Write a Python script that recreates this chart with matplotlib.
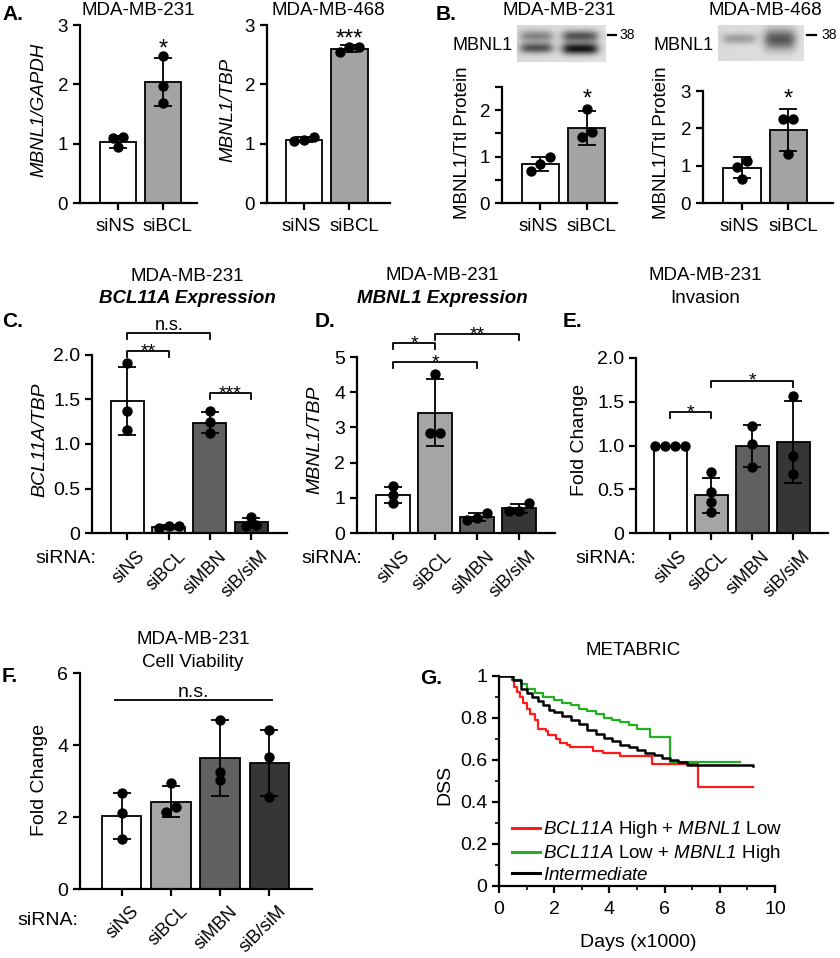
import numpy as np
import matplotlib
matplotlib.use('Agg')
import matplotlib.pyplot as plt
from matplotlib.lines import Line2D
from matplotlib.ticker import MultipleLocator

plt.rcParams['font.family'] = ['Liberation Sans', 'DejaVu Sans']
plt.rcParams['mathtext.fontset'] = 'custom'
plt.rcParams['mathtext.rm'] = 'Liberation Sans:italic'
plt.rcParams['mathtext.it'] = 'Liberation Sans:italic'
plt.rcParams['mathtext.bf'] = 'Liberation Sans:bold'

W, H = 840, 958
PT = 100 / 72  # pixels per point
fig = plt.figure(figsize=(W / 100, H / 100), dpi=100)

# ---------------- data ----------------
groups2 = ['siNS', 'siBCL']
groups4 = ['siNS', 'siBCL', 'siMBN', 'siB/siM']

# A: MBNL1 qPCR
a231_mean = [1.03, 2.04]
a231_sd = [0.10, 0.40]
a231_pts = [[1.10, 1.12, 0.95], [2.48, 1.98, 1.68]]
a468_mean = [1.07, 2.60]
a468_sd = [0.05, 0.06]
a468_pts = [[1.11, 1.05, 1.06], [2.55, 2.63, 2.63]]

# B: MBNL1 western quantification
b231_mean = [0.85, 1.62]
b231_sd = [0.15, 0.37]
b231_pts = [[1.00, 0.85, 0.70], [2.03, 1.52, 1.43]]
b468_mean = [0.94, 1.95]
b468_sd = [0.28, 0.56]
b468_pts = [[1.12, 0.97, 0.63], [2.25, 2.25, 1.30]]

# C: BCL11A expression
c_mean = [1.48, 0.07, 1.24, 0.12]
c_sd = [0.38, 0.02, 0.12, 0.05]
c_pts = [[1.91, 1.37, 1.16], [0.06, 0.08, 0.08], [1.37, 1.25, 1.12], [0.18, 0.08, 0.09]]

# D: MBNL1 expression
d_mean = [1.08, 3.42, 0.45, 0.70]
d_sd = [0.22, 0.96, 0.12, 0.12]
d_pts = [[1.33, 1.08, 0.85], [4.53, 2.85, 2.85], [0.58, 0.37, 0.42], [0.84, 0.63, 0.63]]

# E: invasion
e_mean = [1.00, 0.43, 1.00, 1.04]
e_sd = [0.00, 0.20, 0.24, 0.47]
e_pts = [[1.0, 1.0, 1.0, 1.0], [0.70, 0.47, 0.36, 0.24], [1.22, 1.02, 0.76], [1.57, 0.88, 0.67]]

# F: cell viability
f_mean = [2.03, 2.42, 3.64, 3.50]
f_sd = [0.63, 0.43, 1.06, 0.93]
f_pts = [[2.68, 2.11, 1.40], [2.95, 2.28, 2.15], [4.70, 3.25, 3.03], [4.42, 3.67, 2.55]]

# G: METABRIC Kaplan-Meier (days x1000, DSS)
red_t = [0.0, 0.46, 0.55, 0.64, 0.76, 0.88, 1.0, 1.12, 1.3, 1.42, 1.72, 1.78, 2.08, 2.2,
         2.45, 2.57, 3.42, 3.78, 4.38, 5.53, 7.22, 9.2]
red_s = [1.0, 0.98, 0.95, 0.925, 0.90, 0.87, 0.845, 0.82, 0.79, 0.75, 0.74, 0.72, 0.70, 0.68,
         0.67, 0.66, 0.645, 0.635, 0.62, 0.583, 0.47, 0.47]
grn_t = [0.0, 0.5, 0.8, 1.0, 1.3, 1.6, 2.0, 2.3, 2.6, 2.9, 3.2, 3.5, 3.8, 4.1, 4.4, 4.7,
         5.0, 5.47, 6.2, 8.73]
grn_s = [1.0, 0.98, 0.96, 0.94, 0.92, 0.90, 0.885, 0.87, 0.86, 0.845, 0.835, 0.82, 0.80,
         0.79, 0.78, 0.765, 0.75, 0.71, 0.59, 0.59]
blk_t = [0.0, 0.5, 0.8, 1.0, 1.2, 1.4, 1.6, 1.8, 2.0, 2.3, 2.6, 2.9, 3.2, 3.5, 3.8, 4.1,
         4.4, 4.7, 5.0, 5.3, 5.6, 5.9, 6.2, 6.5, 6.8, 9.2]
blk_s = [1.0, 0.98, 0.94, 0.92, 0.90, 0.88, 0.86, 0.84, 0.83, 0.81, 0.79, 0.77, 0.745,
         0.725, 0.705, 0.69, 0.672, 0.66, 0.648, 0.635, 0.623, 0.61, 0.60, 0.59, 0.575, 0.572]
km_labels = [r'$\mathit{BCL11A}$ High + $\mathit{MBNL1}$ Low',
             r'$\mathit{BCL11A}$ Low + $\mathit{MBNL1}$ High',
             r'$\mathit{Intermediate}$']

# ---------------- style ----------------
C2 = ['white', '#a3a3a3']
C4 = ['white', '#a5a5a5', '#606060', '#363636']
SPINE = 1.6
DOT_PX = 9.0


def px_ax(l, t, r, b):
    return fig.add_axes([l / W, 1 - b / H, (r - l) / W, (b - t) / H])


def ftext(x, y, s, fs, **kw):
    """x, y: pixel position of the visual centre of capitals"""
    yb = y + 0.36 * fs * PT
    ha = kw.pop('ha', 'center')
    fig.text(x / W, 1 - yb / H, s, fontsize=fs, ha=ha, va='baseline', **kw)


def vtext(x, y, s, fs, **kw):
    fig.text(x / W, 1 - y / H, s, fontsize=fs, rotation=90, ha='center', va='center', **kw)


def swarm_offsets(ys, ppu_y, ppu_x):
    ys = np.asarray(ys, dtype=float)
    order = np.argsort(ys)
    offs = np.zeros(len(ys))
    clusters = [[order[0]]]
    for i in order[1:]:
        if (ys[i] - ys[clusters[-1][-1]]) * ppu_y < DOT_PX * 0.85:
            clusters[-1].append(i)
        else:
            clusters.append([i])
    for cl in clusters:
        n = len(cl)
        for k, i in enumerate(cl):
            offs[i] = (k - (n - 1) / 2) * DOT_PX * 1.1 / ppu_x
    return offs


def bar_panel(box, means, sds, pts, colors, xlim, ylim, yticks, yticklabels,
              xlabels, rotate, fs_tick, bw=0.8, rot_dy=15):
    l, t, r, b = box
    ax = px_ax(*box)
    x = np.arange(len(means))
    ax.bar(x, means, width=bw, color=colors, edgecolor='black', linewidth=1.3, zorder=2)
    ax.errorbar(x, means, yerr=sds, fmt='none', ecolor='black', elinewidth=1.3,
                capsize=6.5, capthick=1.3, zorder=3)
    ppu_y = (b - t) / (ylim[1] - ylim[0])
    ppu_x = (r - l) / (xlim[1] - xlim[0])
    for xi, ys in zip(x, pts):
        offs = swarm_offsets(ys, ppu_y, ppu_x)
        ax.plot(xi + offs, ys, 'o', color='black', ms=DOT_PX * 0.72, zorder=4, clip_on=False)
    ax.set_xlim(xlim)
    ax.set_ylim(ylim)
    for s in ['top', 'right']:
        ax.spines[s].set_visible(False)
    for s in ['left', 'bottom']:
        ax.spines[s].set_linewidth(SPINE)
    ax.set_yticks(yticks)
    ax.set_yticklabels(yticklabels, fontsize=fs_tick)
    ax.set_xticks(x)
    ax.set_xticklabels([])
    trans = ax.get_xaxis_transform()
    if rotate:
        for xi, lab in zip(x, xlabels):
            ax.annotate(lab, (xi, 0), xycoords=trans, xytext=(8.5 / PT, -rot_dy / PT),
                        textcoords='offset points', rotation=45, ha='right', va='top',
                        rotation_mode='anchor', fontsize=13, annotation_clip=False)
    else:
        shifts = [-2.5, 4.5]
        for xi, lab, dx in zip(x, xlabels, shifts):
            ax.annotate(lab, (xi, 0), xycoords=trans,
                        xytext=(dx / PT, -(21 + 0.36 * fs_tick * PT) / PT),
                        textcoords='offset points', ha='center', va='baseline',
                        fontsize=fs_tick, annotation_clip=False)
    ax.tick_params(direction='out', length=5, width=SPINE)
    ax.patch.set_visible(False)
    return ax


def star(ax, x, y, s, fs=17):
    ax.annotate(s, (x, y), xytext=(0, -0.575 * fs), textcoords='offset points',
                ha='center', va='baseline', fontsize=fs, annotation_clip=False)


def bracket(ax, x0, x1, y, h, s, fs=14):
    ax.plot([x0, x0, x1, x1], [y - h, y, y, y - h], color='black', lw=1.3,
            clip_on=False, zorder=5)
    if s.startswith('*'):
        ax.annotate(s, ((x0 + x1) / 2, y), xytext=(0, 4.3 - 0.575 * fs),
                    textcoords='offset points', ha='center', va='baseline',
                    fontsize=fs, annotation_clip=False)
    else:
        ax.annotate(s, ((x0 + x1) / 2, y), xytext=(0, 2.0), textcoords='offset points',
                    ha='center', va='baseline', fontsize=fs, annotation_clip=False)


def blot(box, lanes, bg=0.87):
    l, t, r, b = box
    ax = px_ax(*box)
    nx, ny = 4 * (r - l), 4 * (b - t)
    xx = (np.arange(nx) + 0.5) / nx
    yy = (np.arange(ny) + 0.5) / ny
    X, Y = np.meshgrid(xx, yy)
    img = np.full_like(X, bg) + 0.03 * (X - 0.5)
    for xc, hw, bands in lanes:
        lane = 1 / (1 + np.exp((np.abs(X - xc) - hw) / 0.03))
        for yc, sig, amp in bands:
            img -= amp * lane * np.exp(-0.5 * ((Y - yc) / sig) ** 2)
    ax.imshow(np.clip(img, 0, 1), cmap='gray', vmin=0, vmax=1, aspect='auto',
              extent=(0, 1, 1, 0), interpolation='bilinear')
    ax.set_axis_off()


def fig_line(x0, x1, y):
    fig.add_artist(Line2D([x0 / W, x1 / W], [1 - y / H, 1 - y / H],
                          transform=fig.transFigure, color='black', lw=1.6))


# ================= Panel A =================
FS_AB = 13.5
axA1 = bar_panel((80, 25, 197, 203), a231_mean, a231_sd, a231_pts, C2, (-0.84, 1.76),
                 (0, 3), [0, 1, 2, 3], ['0', '1', '2', '3'], groups2, False, FS_AB)
star(axA1, 1, 2.71, '*')
axA2 = bar_panel((267, 25, 390, 203), a468_mean, a468_sd, a468_pts, C2, (-0.81, 1.89),
                 (0, 3), [0, 1, 2, 3], ['0', '1', '2', '3'], groups2, False, FS_AB)
star(axA2, 1, 2.88, '***')
ftext(138, 8, 'MDA-MB-231', 13.5)
ftext(328, 8, 'MDA-MB-468', 13.5)
vtext(39, 110, 'MBNL1/GAPDH', 13.5, style='italic')
vtext(228, 110, 'MBNL1/TBP', 13.5, style='italic')
ftext(2, 13, 'A.', 15, ha='left', weight='bold')

# ================= Panel B =================
axB1 = bar_panel((502, 87, 617, 203), b231_mean, b231_sd, b231_pts, C2, (-0.83, 1.65),
                 (0, 2.5), [0, 0.5, 1, 1.5, 2, 2.5], ['0', '', '1', '', '2', ''],
                 groups2, False, FS_AB)
star(axB1, 1, 2.39, '*')
axB2 = bar_panel((703, 91, 833, 203), b468_mean, b468_sd, b468_pts, C2, (-0.84, 1.96),
                 (0, 3), [0, 1, 2, 3], ['0', '1', '2', '3'], groups2, False, FS_AB)
star(axB2, 1, 2.97, '*')
ftext(559, 8, 'MDA-MB-231', 13.5)
ftext(765, 8, 'MDA-MB-468', 13.5)
vtext(462, 143, 'MBNL1/Ttl Protein', 13.5)
vtext(662, 143, 'MBNL1/Ttl Protein', 13.5)
ftext(436, 12, 'B.', 15, ha='left', weight='bold')
# western blots
blot((517, 25, 606, 62), [(0.22, 0.17, [(0.30, 0.11, 0.35), (0.62, 0.10, 0.55)]),
                          (0.71, 0.19, [(0.30, 0.11, 0.55), (0.64, 0.11, 0.80)])])
blot((718, 25, 804, 61), [(0.25, 0.18, [(0.38, 0.10, 0.25)]),
                          (0.72, 0.17, [(0.40, 0.20, 0.55)])])
ftext(483, 44, 'MBNL1', 13)
ftext(684, 44, 'MBNL1', 13)
fig_line(608, 616, 35)
fig_line(807, 816, 35)
ftext(627, 34, '38', 10)
ftext(829, 34, '38', 10)

# ================= Panel C =================
FS4 = 14
axC = bar_panel((92, 355, 287, 533), c_mean, c_sd, c_pts, C4, (-0.86, 3.87),
                (0, 2), [0, 0.5, 1, 1.5, 2], ['0', '0.5', '1.0', '1.5', '2.0'],
                groups4, True, FS4)
bracket(axC, 0, 2, 2.25, 0.067, 'n.s.', 13)
bracket(axC, 0, 1, 2.04, 0.067, '**')
bracket(axC, 2, 3, 1.57, 0.067, '***')
ftext(187, 274, 'MDA-MB-231', 13.5)
ftext(187, 296, 'BCL11A Expression', 13.5, weight='bold', style='italic')
vtext(40, 440, 'BCL11A/TBP', 14, style='italic')
ftext(66, 556, 'siRNA:', 14)
ftext(2, 320, 'C.', 15, ha='left', weight='bold')

# ================= Panel D =================
axD = bar_panel((357, 357, 555, 533), d_mean, d_sd, d_pts, C4, (-0.86, 3.86),
                (0, 5), [0, 1, 2, 3, 4, 5], ['0', '1', '2', '3', '4', '5'],
                groups4, True, FS4)
bracket(axD, 0, 1, 5.40, 0.17, '*')
bracket(axD, 0, 2, 4.86, 0.17, '*')
bracket(axD, 1, 3, 5.65, 0.17, '**')
ftext(442, 273, 'MDA-MB-231', 13.5)
ftext(442, 296, 'MBNL1 Expression', 13.5, weight='bold', style='italic')
vtext(315, 440, 'MBNL1/TBP', 14, style='italic')
ftext(332, 556, 'siRNA:', 14)
ftext(315, 320, 'D.', 15, ha='left', weight='bold')

# ================= Panel E =================
axE = bar_panel((636, 358, 828, 533), e_mean, e_sd, e_pts, C4, (-0.83, 3.84),
                (0, 2), [0, 0.5, 1, 1.5, 2], ['0', '0.5', '1.0', '1.5', '2.0'],
                groups4, True, FS4)
bracket(axE, 0, 1, 1.38, 0.068, '*')
bracket(axE, 1, 3, 1.74, 0.068, '*')
ftext(705, 273, 'MDA-MB-231', 13.5)
ftext(705, 296, 'Invasion', 13.5)
vtext(580, 440, 'Fold Change', 14)
ftext(606, 556, 'siRNA:', 14)
ftext(563, 320, 'E.', 15, ha='left', weight='bold')

# ================= Panel F =================
axF = bar_panel((80, 673, 312, 889), f_mean, f_sd, f_pts, C4, (-0.85, 3.87),
                (0, 6), [0, 2, 4, 6], ['0', '2', '4', '6'], groups4, True, FS4, rot_dy=14)
axF.plot([-0.14, 3.05], [5.25, 5.25], color='black', lw=1.3, clip_on=False)
axF.annotate('n.s.', (1.45, 5.25), xytext=(0, 2), textcoords='offset points',
             ha='center', va='baseline', fontsize=14)
ftext(193, 637, 'MDA-MB-231', 13.5)
ftext(193, 660, 'Cell Viability', 13.5)
vtext(39, 780, 'Fold Change', 14)
ftext(48, 918, 'siRNA:', 14)
ftext(2, 674, 'F.', 15, ha='left', weight='bold')

# ================= Panel G =================
axG = px_ax(499, 676, 775, 886)
lr, = axG.plot(red_t, red_s, drawstyle='steps-post', color='#ff1a1a', lw=1.6)
lg, = axG.plot(grn_t, grn_s, drawstyle='steps-post', color='#22b022', lw=1.6)
lb, = axG.plot(blk_t, blk_s, drawstyle='steps-post', color='black', lw=1.8)
axG.set_xlim(0, 10)
axG.set_ylim(0, 1)
for s in ['top', 'right']:
    axG.spines[s].set_visible(False)
for s in ['left', 'bottom']:
    axG.spines[s].set_linewidth(SPINE)
axG.set_xticks([0, 2, 4, 6, 8, 10])
axG.set_xticklabels(['0', '2', '4', '6', '8', '10'], fontsize=14)
axG.set_yticks([0, 0.2, 0.4, 0.6, 0.8, 1.0])
axG.set_yticklabels(['0', '0.2', '0.4', '0.6', '0.8', '1'], fontsize=14)
axG.xaxis.set_minor_locator(MultipleLocator(1))
axG.yaxis.set_minor_locator(MultipleLocator(0.1))
axG.tick_params(which='major', direction='out', length=5, width=SPINE)
axG.tick_params(which='minor', direction='out', length=3, width=1.2)
axG.tick_params(axis='x', pad=6)
axG.patch.set_visible(False)
leg = axG.legend([lr, lg, lb], km_labels, loc='lower left',
                 bbox_to_anchor=(512 / W, 1 - 884 / H), bbox_transform=fig.transFigure,
                 frameon=False, fontsize=13.5, handlelength=1.5, handletextpad=0.15,
                 labelspacing=0.15, borderpad=0, borderaxespad=0)
for ln in leg.get_lines():
    ln.set_linewidth(2.2)
ftext(633, 648, 'METABRIC', 13.5)
ftext(638, 940, 'Days (x1000)', 14)
vtext(445, 785, 'DSS', 14)
ftext(420, 677, 'G.', 15, ha='left', weight='bold')

fig.savefig('out.png', dpi=100)
